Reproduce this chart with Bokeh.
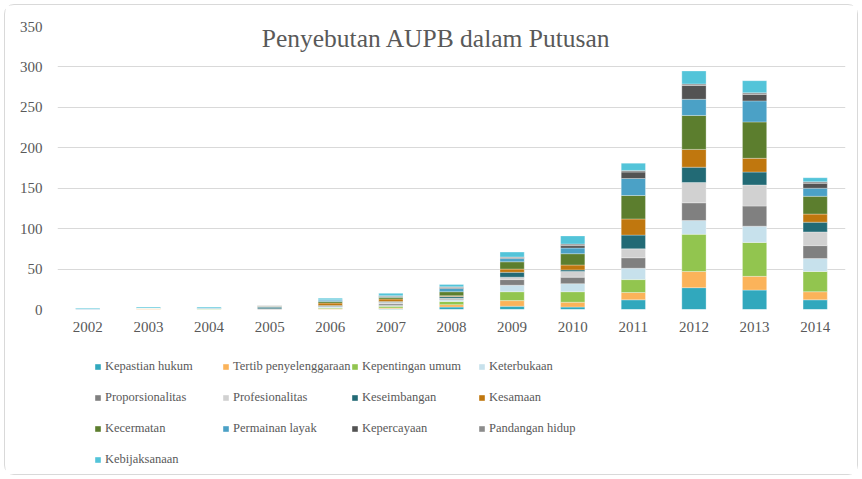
from bokeh.plotting import figure
from bokeh.layouts import column
from bokeh.models import ColumnDataSource, Legend, LegendItem, Range1d, FactorRange, Label, SingleIntervalTicker
from bokeh.embed import file_html
from bokeh.resources import INLINE

years = ["2002", "2003", "2004", "2005", "2006", "2007", "2008",
         "2009", "2010", "2011", "2012", "2013", "2014"]

series_names = ["Kepastian hukum", "Tertib penyelenggaraan", "Kepentingan umum",
                "Keterbukaan", "Proporsionalitas", "Profesionalitas", "Keseimbangan",
                "Kesamaan", "Kecermatan", "Permainan layak", "Kepercayaan",
                "Pandangan hidup", "Kebijaksanaan"]

kepastian_hukum = [0, 0, 0, 0, 0, 1, 3, 4, 3, 12, 27, 24, 12]
tertib_penyelenggaraan = [0, 1, 0, 0, 1, 1, 3, 7, 6, 9, 20, 17, 10]
kepentingan_umum = [0, 1, 1, 0, 1, 2, 4, 11, 13, 16, 46, 42, 25]
keterbukaan = [0, 0, 0, 0, 1, 1, 2, 8, 10, 14, 17, 20, 16]
proporsionalitas = [0, 0, 0, 1, 1, 2, 1, 7, 8, 13, 22, 25, 16]
profesionalitas = [0, 0, 0, 0, 0, 2, 1, 3, 7, 11, 25, 26, 17]
keseimbangan = [0, 0, 0, 2, 1, 1, 2, 6, 2, 17, 19, 16, 12]
kesamaan = [0, 0, 0, 0, 3, 3, 1, 4, 6, 20, 22, 17, 10]
kecermatan = [0, 0, 0, 1, 2, 2, 5, 9, 14, 29, 42, 45, 22]
permainan_layak = [1, 0, 1, 0, 2, 1, 4, 4, 7, 21, 20, 26, 10]
kepercayaan = [0, 0, 0, 0, 0, 1, 1, 1, 3, 8, 17, 8, 6]
pandangan_hidup = [0, 0, 0, 1, 0, 0, 1, 1, 2, 2, 2, 2, 2]
kebijaksanaan = [1, 1, 1, 0, 2, 3, 3, 6, 10, 9, 16, 15, 5]

colors = ["#31a8bd", "#fbb35a", "#92c54f", "#c7e1ec", "#808080", "#d1d1d1",
          "#226a75", "#c0770e", "#5c7e2e", "#4ba1c6", "#535353", "#8c8c8c", "#53c4d9"]

title_text = "Penyebutan AUPB dalam Putusan"

keys = ["s%d" % i for i in range(len(series_names))]
data = {"year": years}
for k, vals in zip(keys, [kepastian_hukum, tertib_penyelenggaraan, kepentingan_umum,
                          keterbukaan, proporsionalitas, profesionalitas, keseimbangan,
                          kesamaan, kecermatan, permainan_layak, kepercayaan,
                          pandangan_hidup, kebijaksanaan]):
    data[k] = vals
source = ColumnDataSource(data)

FONT = "Liberation Serif"
TXT = "#595959"
W = 852

p = figure(width=W, height=343, x_range=FactorRange(*years, range_padding=0),
           y_range=Range1d(0, 350), output_backend="svg", toolbar_location=None,
           min_border_left=52, min_border_right=12, min_border_top=21, min_border_bottom=39)
p.background_fill_color = "white"
p.border_fill_color = "white"
p.outline_line_color = None

renderers = p.vbar_stack(keys, x="year", width=0.4, color=colors, source=source,
                         line_color="white", line_width=0.5, line_alpha=0.6)

p.yaxis.ticker = SingleIntervalTicker(interval=50)
for ax in (p.xaxis[0], p.yaxis[0]):
    ax.axis_line_color = None
    ax.major_tick_line_color = None
    ax.minor_tick_line_color = None
    ax.major_label_text_font = FONT
    ax.major_label_text_font_size = "15px"
    ax.major_label_text_color = TXT
p.yaxis.major_label_standoff = 9
p.xaxis.major_label_standoff = 6
p.xgrid.grid_line_color = None
p.ygrid.grid_line_color = "#d9d9d9"
p.ygrid.grid_line_width = 1

p.add_layout(Label(x=6.25, y=335, text=title_text, text_align="center",
                   text_baseline="middle", text_font=FONT, text_font_size="25.5px",
                   text_color=TXT))

# legend panel (its frame is aligned with the chart frame by the column layout)
lg = figure(width=W, height=126, output_backend="svg", toolbar_location=None,
            x_range=Range1d(0, 1), y_range=Range1d(0, 1),
            x_axis_location=None, y_axis_location=None,
            min_border_left=0, min_border_right=0, min_border_top=0, min_border_bottom=0)
lg.outline_line_color = None
lg.xgrid.grid_line_color = None
lg.ygrid.grid_line_color = None
lg.border_fill_color = "white"
lg.background_fill_color = "white"

# swatch renderers kept outside the visible range; only their legend glyphs show
swatches = [lg.vbar(x=[-10], top=[-10], bottom=[-11], width=0.1, color=c, line_color=None)
            for c in colors]

col_x = [37, 165, 294, 421]
for ci in range(4):
    idx = list(range(ci, len(series_names), 4))
    n = len(idx)
    height = n * 21 + (n - 1) * 10
    y_bottom = 126 - 7.5 - height
    leg = Legend(items=[LegendItem(label=series_names[i], renderers=[swatches[i]]) for i in idx],
                 location=(col_x[ci], y_bottom), orientation="vertical",
                 label_text_font=FONT, label_text_font_size="12.5px", label_text_color=TXT,
                 glyph_width=7, glyph_height=7, label_standoff=4, spacing=10,
                 label_height=21, border_line_color=None, background_fill_alpha=0,
                 padding=0, margin=0)
    lg.add_layout(leg, "center")

layout = column(p, lg, spacing=0)
layout.styles = {"border": "1px solid #d9d9d9", "border-radius": "10px",
                 "margin-left": "4px", "margin-top": "4px", "background": "white"}

open("out.html", "w").write(file_html(layout, INLINE))
